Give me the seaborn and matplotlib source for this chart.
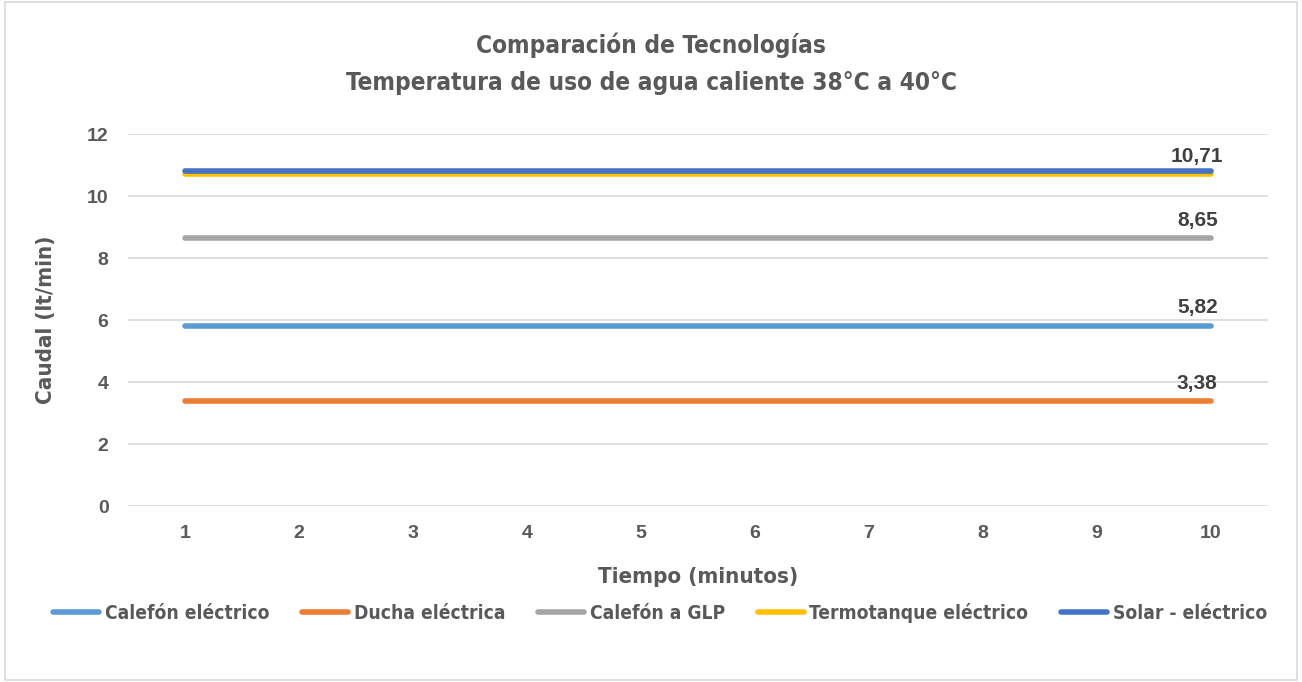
import pandas as pd
import matplotlib.pyplot as plt
import seaborn as sns
from matplotlib.patches import Rectangle

# datos
minutos = [1, 2, 3, 4, 5, 6, 7, 8, 9, 10]
calefon_electrico = [5.82] * 10
ducha_electrica = [3.38] * 10
calefon_glp = [8.65] * 10
termotanque_electrico = [10.71] * 10
solar_electrico = [10.80] * 10

series = ['Calefón eléctrico', 'Ducha eléctrica', 'Calefón a GLP',
          'Termotanque eléctrico', 'Solar - eléctrico']
colores = ['#5B9BD5', '#ED7D31', '#A5A5A5', '#FFC000', '#4472C4']
etiquetas = ['5,82', '3,38', '8,65', '10,71', None]

valores = [calefon_electrico, ducha_electrica, calefon_glp,
           termotanque_electrico, solar_electrico]
df = pd.DataFrame({
    'Tiempo': [m for _ in series for m in minutos],
    'Caudal': [v for vals in valores for v in vals],
    'Serie': [s for s in series for _ in minutos],
})
df['pos'] = df['Tiempo'] - 1  # posición categórica

sns.set_style('white')
plt.rcParams['font.family'] = ['DejaVu Sans']
plt.rcParams['font.stretch'] = 'condensed'
gris = '#595959'
normal = ['Liberation Sans', 'DejaVu Sans']

fig = plt.figure(figsize=(13.02, 6.82), dpi=100)
fig.patches.append(Rectangle((0.004, 0.003), 0.992, 0.994, transform=fig.transFigure,
                             fill=False, edgecolor='#D9D9D9', linewidth=1.2))
ax = fig.add_axes([0.0983, 0.258, 0.8756, 0.5455])

sns.lineplot(data=df, x='pos', y='Caudal', hue='Serie', hue_order=series,
             palette=colores, linewidth=4, ax=ax, legend=True,
             solid_capstyle='round')

for s, vals, lab in zip(series, valores, etiquetas):
    if lab:
        ax.text(len(minutos) - 1 - 0.12, vals[-1] + 0.27, lab, ha='center', va='bottom',
                fontsize=15, fontweight='bold', color='#404040', family=normal,
                fontstretch='normal')

ax.set_xlim(-0.5, len(minutos) - 0.5)
ax.set_ylim(0, 12)
ax.set_yticks(range(0, 13, 2))
ax.set_xticks(range(len(minutos)))
ax.set_xticklabels([str(m) for m in minutos])
ax.grid(axis='y', color='#D9D9D9', linewidth=1.2)
ax.grid(axis='x', visible=False)
for sp in ax.spines.values():
    sp.set_visible(False)
ax.tick_params(axis='both', length=0, labelsize=14, labelcolor=gris, pad=14)
for t in ax.get_xticklabels() + ax.get_yticklabels():
    t.set_fontweight('bold')
    t.set_family(normal)
    t.set_fontstretch('normal')

ax.set_xlabel('Tiempo (minutos)', fontsize=16, fontweight='bold', color=gris, labelpad=18)
ax.set_ylabel('Caudal (lt/min)', fontsize=16, fontweight='bold', color=gris, labelpad=22)

fig.text(0.5, 0.933, 'Comparación de Tecnologías', ha='center', va='center',
         fontsize=17.5, fontweight='bold', color=gris)
fig.text(0.5, 0.878, 'Temperatura de uso de agua caliente 38°C a 40°C', ha='center',
         va='center', fontsize=17.5, fontweight='bold', color=gris)

handles, labels = ax.get_legend_handles_labels()
ax.get_legend().remove()
fig.legend(handles, labels, loc='center', bbox_to_anchor=(0.507, 0.101),
           bbox_transform=fig.transFigure, ncol=5, frameon=False, handlelength=2.4,
           columnspacing=1.7, handletextpad=0.3,
           prop={'size': 13.8, 'weight': 'bold', 'stretch': 'condensed'}, labelcolor=gris)

fig.savefig('out.png', dpi=100)
